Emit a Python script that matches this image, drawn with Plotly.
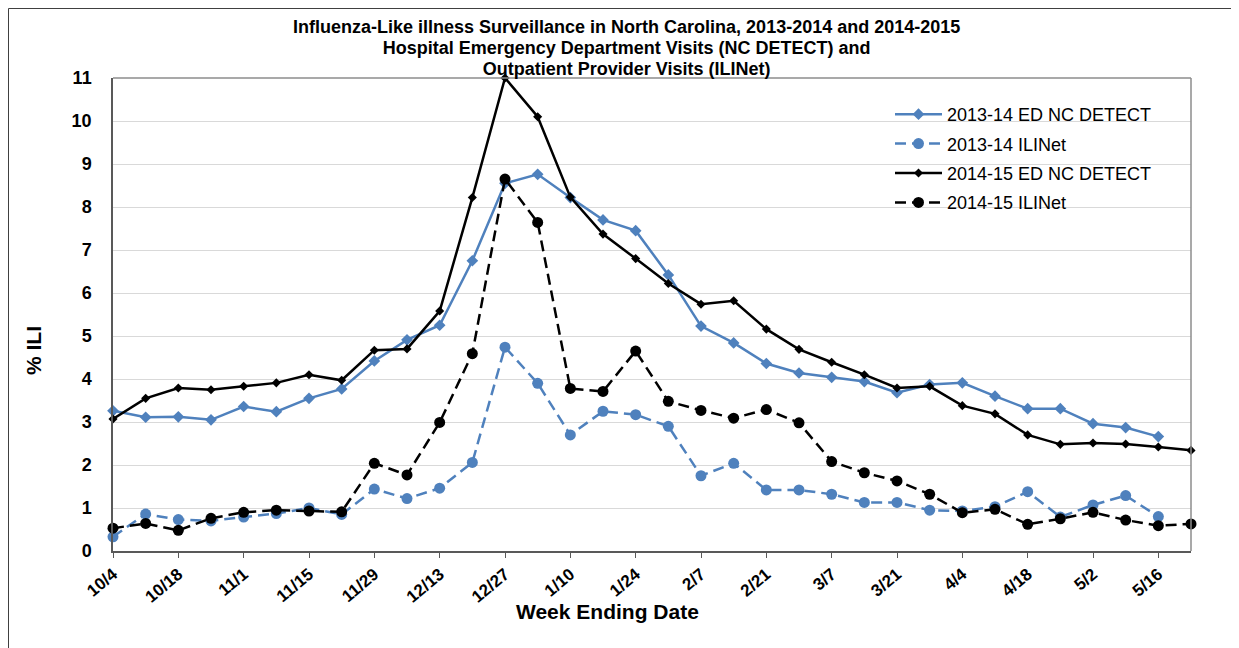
import plotly.graph_objects as go

weeks = ["10/4", "10/11", "10/18", "10/25", "11/1", "11/8", "11/15", "11/22", "11/29",
         "12/6", "12/13", "12/20", "12/27", "1/3", "1/10", "1/17", "1/24", "1/31", "2/7",
         "2/14", "2/21", "2/28", "3/7", "3/14", "3/21", "3/28", "4/4", "4/11", "4/18",
         "4/25", "5/2", "5/9", "5/16", "5/23"]

ed_1314 = [3.26, 3.11, 3.12, 3.05, 3.36, 3.24, 3.55, 3.77, 4.42, 4.91, 5.25, 6.75,
           8.55, 8.76, 8.22, 7.70, 7.45, 6.42, 5.23, 4.84, 4.36, 4.14, 4.04, 3.94,
           3.68, 3.87, 3.91, 3.60, 3.31, 3.31, 2.96, 2.87, 2.66, None]
ili_1314 = [0.33, 0.86, 0.73, 0.70, 0.79, 0.87, 1.00, 0.85, 1.44, 1.22, 1.46, 2.06,
            4.74, 3.90, 2.70, 3.25, 3.17, 2.90, 1.75, 2.04, 1.42, 1.42, 1.32, 1.13,
            1.13, 0.95, 0.93, 1.03, 1.38, 0.79, 1.07, 1.29, 0.80, None]
ed_1415 = [3.07, 3.55, 3.79, 3.75, 3.83, 3.91, 4.10, 3.97, 4.67, 4.70, 5.58, 8.22,
           11.0, 10.10, 8.23, 7.37, 6.80, 6.22, 5.74, 5.82, 5.16, 4.69, 4.39, 4.10,
           3.79, 3.83, 3.38, 3.19, 2.70, 2.48, 2.51, 2.49, 2.42, 2.34]
ili_1415 = [0.53, 0.64, 0.48, 0.76, 0.90, 0.95, 0.93, 0.91, 2.04, 1.77, 2.99, 4.59,
            8.65, 7.64, 3.78, 3.71, 4.65, 3.48, 3.27, 3.09, 3.29, 2.98, 2.08, 1.82,
            1.63, 1.32, 0.89, 0.97, 0.62, 0.75, 0.90, 0.72, 0.59, 0.63]

tick_labels = weeks[::2]

title_lines = ["Influenza-Like illness Surveillance in North Carolina, 2013-2014 and 2014-2015",
               "Hospital Emergency Department Visits (NC DETECT) and",
               "Outpatient Provider Visits (ILINet)"]

BLUE = "#4f81bd"
FONT = "Arial, Liberation Sans, sans-serif"
DASH = "11px,6px"
x = list(range(len(weeks)))

# screen layout (page has an 8px body offset)
OFF = 8
PL, PR, PT, PB = 113, 1191, 78, 551
PW, PH = PR - PL, PB - PT


def px_x(sx):
    return (sx - PL) / PW


def px_y(sy):
    return (PB - sy) / PH


fig = go.Figure()
fig.add_trace(go.Scatter(x=x, y=ed_1314, name="2013-14 ED NC DETECT", mode="lines+markers",
                         line=dict(color=BLUE, width=2.5), marker=dict(symbol="diamond", size=9, color=BLUE),
                         cliponaxis=False, legendgroup="a"))
fig.add_trace(go.Scatter(x=x, y=ili_1314, name="2013-14 ILINet", mode="lines+markers",
                         line=dict(color=BLUE, width=2.5, dash=DASH), marker=dict(symbol="circle", size=11, color=BLUE),
                         cliponaxis=False, legendgroup="b"))
fig.add_trace(go.Scatter(x=x, y=ed_1415, name="2014-15 ED NC DETECT", mode="lines+markers",
                         line=dict(color="black", width=2.5), marker=dict(symbol="diamond", size=7, color="black"),
                         cliponaxis=False, legendgroup="c"))
fig.add_trace(go.Scatter(x=x, y=ili_1415, name="2014-15 ILINet", mode="lines+markers",
                         line=dict(color="black", width=2.5, dash=DASH), marker=dict(symbol="circle", size=11, color="black"),
                         cliponaxis=False, legendgroup="d"))

# one text block: base size 16 gives 20.8px line spacing, glyphs drawn at 18px
title_text = "<br>".join('<span style="font-size:18px">%s</span>' % t for t in title_lines)

annotations = [
    dict(text=title_text, xref="paper", yref="paper", x=px_x(626), y=px_y(47.5),
         xanchor="center", yanchor="middle", align="center", showarrow=False,
         font=dict(size=16, family=FONT, weight="bold", color="black")),
    dict(text="% ILI", textangle=-90, xref="paper", yref="paper",
         x=px_x(33), y=px_y(351), xanchor="center", yanchor="middle",
         showarrow=False, font=dict(size=21, family=FONT, weight="bold", color="black")),
    dict(text="Week Ending Date", xref="paper", yref="paper",
         x=px_x(607), y=px_y(611), xanchor="center", yanchor="middle",
         showarrow=False, font=dict(size=21, family=FONT, weight="bold", color="black")),
]

fig.update_layout(
    width=1239, height=648,
    margin=dict(l=PL - OFF, r=1239 - (PR - OFF), t=PT - OFF, b=648 - (PB - OFF), autoexpand=False),
    paper_bgcolor="white", plot_bgcolor="white",
    font=dict(family=FONT, color="black"),
    showlegend=True,
    legend=dict(x=px_x(890), y=px_y(96), xanchor="left", yanchor="top", bgcolor="rgba(0,0,0,0)",
                font=dict(size=18, family=FONT, color="black"), tracegroupgap=3,
                itemwidth=47),
    xaxis=dict(range=[0, 33], tickmode="array", tickvals=x[::2], ticktext=tick_labels,
               tickangle=-40, ticks="outside", ticklen=5, tickcolor="#595959",
               showline=True, linecolor="#595959", linewidth=1.5, mirror=False,
               showgrid=False, zeroline=False,
               tickfont=dict(size=17, family=FONT, weight="bold", color="black")),
    yaxis=dict(range=[0, 11], dtick=1, showgrid=True, gridcolor="#d9d9d9", gridwidth=1,
               showline=True, linecolor="#595959", linewidth=1.5, zeroline=False,
               ticks="", ticklabelstandoff=16,
               tickfont=dict(size=18, family=FONT, weight="bold", color="black")),
    shapes=[
        dict(type="rect", xref="paper", yref="paper",
             x0=px_x(869), x1=px_x(1179), y0=px_y(215), y1=px_y(102),
             fillcolor="white", line=dict(width=0), layer="between"),
        dict(type="line", xref="paper", yref="paper", x0=0, x1=1, y0=1, y1=1,
             line=dict(color="#8c8c8c", width=1.5)),
        dict(type="line", xref="paper", yref="paper", x0=1, x1=1, y0=0, y1=1,
             line=dict(color="#8c8c8c", width=1.5)),
        dict(type="rect", xref="paper", yref="paper",
             x0=px_x(OFF + 0.5), x1=px_x(1270), y0=px_y(680), y1=px_y(OFF + 0.5),
             line=dict(color="#404040", width=1), layer="below"),
    ],
    annotations=annotations,
)

fig.write_html("out.html")
